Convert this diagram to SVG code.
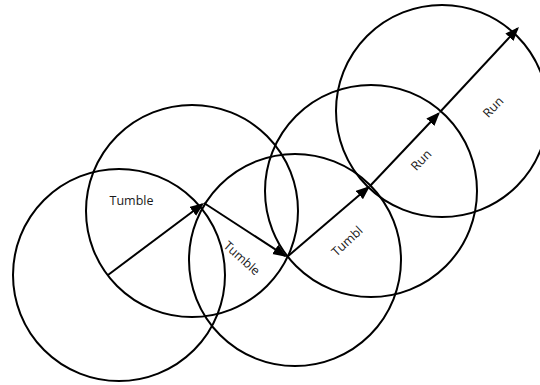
<svg xmlns="http://www.w3.org/2000/svg" width="540" height="385" viewBox="0 0 540 385">
<style>
.c{fill:none;stroke:#000;stroke-width:2}
.a{fill:none;stroke:#000;stroke-width:2;marker-end:url(#ah)}
.t{font-family:"Open Sans","Noto Sans","Liberation Sans",sans-serif;font-size:12.5px;fill:#1a1a1a;text-anchor:middle;dominant-baseline:central}
</style>
<defs>
<marker id="ah" markerUnits="userSpaceOnUse" markerWidth="15" markerHeight="12" refX="12" refY="5.5" orient="auto">
<path d="M0,0 L14,5.5 L0,11 Z" fill="#000"/>
</marker>
</defs>
<rect width="540" height="385" fill="#fff"/>
<g id="circle-a"><circle class="c" cx="119" cy="275" r="106"/></g>
<g id="circle-b"><circle class="c" cx="192" cy="211" r="106"/></g>
<g id="circle-c"><circle class="c" cx="295" cy="260" r="106"/></g>
<g id="circle-d"><circle class="c" cx="371" cy="191" r="106"/></g>
<g id="circle-e"><circle class="c" cx="442" cy="111" r="106"/></g>
<g id="connectors">
<line class="a" x1="108" y1="275" x2="202.4" y2="204.2"/>
<line class="a" x1="204" y1="203" x2="285.3" y2="255.9"/>
<line class="a" x1="287" y1="257" x2="368.5" y2="187.3"/>
<line class="a" x1="370" y1="186" x2="438.6" y2="113.5"/>
<line class="a" x1="440" y1="112" x2="517.6" y2="28.5"/>
</g>
<g id="labels">
<text class="t" x="131.5" y="200.5">Tumble</text>
<text class="t" transform="translate(242,258) rotate(42)">Tumble</text>
<text class="t" transform="translate(347,241) rotate(-43)">Tumbl</text>
<text class="t" transform="translate(421,160) rotate(-46)">Run</text>
<text class="t" transform="translate(493,107) rotate(-46)">Run</text>
</g>
</svg>
